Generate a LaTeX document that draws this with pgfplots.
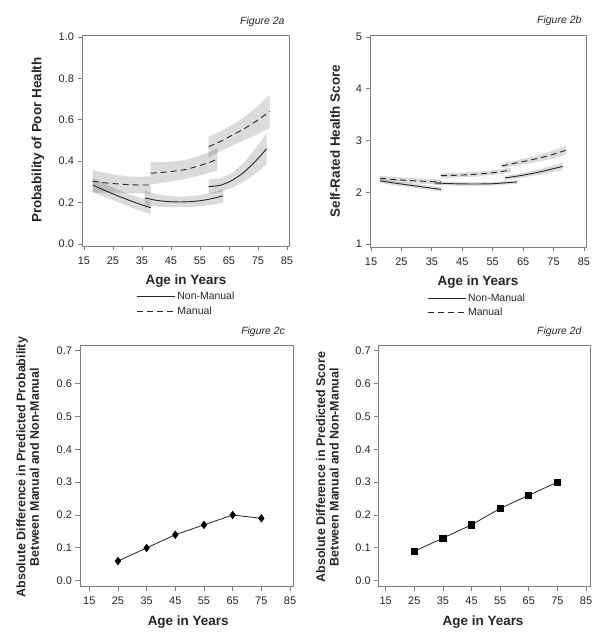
\documentclass[border=0pt]{standalone}
\usepackage{fontspec}
\setmainfont{Liberation Sans}
\usepackage{pgfplots}
\pgfplotsset{compat=1.18}

\definecolor{axgray}{gray}{0.5}
\definecolor{txtgray}{gray}{0.15}
\definecolor{linecol}{gray}{0.15}

\tikzset{figlab/.style={anchor=base east, font=\itshape\fontsize{10.5}{12}\selectfont, text=txtgray}}

\pgfplotsset{
  base/.style={
    scale only axis,
    anchor=south west,
    clip=false,
    axis line style={axgray, line width=0.8bp},
    tick style={axgray, line width=0.8bp},
    major tick length=4.5bp,
    tick align=outside,
    tick pos=left,
    xtick={15,25,...,85},
    ticklabel style={font=\fontsize{11}{12}\selectfont, text=txtgray},
    xticklabel style={yshift=-2.5bp},
    /pgf/number format/assume math mode=true,
    label style={font=\bfseries\fontsize{13.5}{15}\selectfont, text=txtgray},
    xlabel={Age in Years},
  },
  onedec/.style={yticklabel style={/pgf/number format/.cd, fixed, fixed zerofill, precision=1}},
  band/.style={fill=black, fill opacity=0.14, draw=none, forget plot},
  nm/.style={linecol, line width=0.9bp, smooth},
  mn/.style={linecol, line width=0.9bp, smooth, dash pattern=on 6bp off 4bp},
  leg/.style={
    legend style={draw=none, fill=none, anchor=north west, font=\fontsize{10.5}{12}\selectfont, text=txtgray, row sep=1.5bp,
      /tikz/every even column/.append style={column sep=2bp}},
    legend cell align=left,
    legend image code/.code={\draw[##1] (0bp,0bp) -- (38bp,0bp);},
  },
}

\begin{document}
\begin{tikzpicture}
\useasboundingbox (0bp,0bp) rectangle (600bp,639bp);

% ---------------- Figure 2a ----------------
\begin{axis}[base, onedec, leg,
  at={(82bp,393bp)}, width=207bp, height=211bp,
  xmin=14.31, xmax=85.69, ymin=-0.0097, ymax=1.0097,
  ytick={0,0.2,...,1.0},
  ylabel={Probability of Poor Health},
  ylabel style={at={(axis description cs:-0.2126,0.502)}, anchor=center},
  xlabel style={at={(axis description cs:0.502,-0.166)}, anchor=center},
  legend style={at={(axis description cs:0.248,-0.2)}},
]
% bands non-manual
\addplot[band] coordinates {(18,.320)(22,.292)(26,.266)(30,.244)(34,.225)(38,.208)(38,.142)(34,.163)(30,.184)(26,.206)(22,.228)(18,.250)};
\addplot[band] coordinates {(36,.257)(40,.241)(44,.232)(48,.228)(52,.231)(56,.238)(60,.252)(63,.266)(63,.200)(60,.192)(56,.184)(52,.179)(48,.178)(44,.178)(40,.181)(36,.187)};
\addplot[band] coordinates {(58,.312)(62,.317)(66,.342)(70,.390)(74,.458)(78,.535)(78,.385)(74,.338)(70,.300)(66,.272)(62,.251)(58,.242)};
% bands manual
\addplot[band] coordinates {(18,.358)(22,.344)(26,.334)(30,.327)(34,.325)(38,.327)(38,.243)(34,.245)(30,.247)(26,.248)(22,.248)(18,.248)};
\addplot[band] coordinates {(38,.397)(42,.396)(46,.399)(50,.406)(54,.422)(58,.443)(61,.465)(61,.355)(58,.343)(54,.328)(50,.314)(46,.305)(42,.296)(38,.287)};
\addplot[band] coordinates {(58,.520)(62,.543)(66,.575)(70,.610)(74,.655)(79,.720)(79,.560)(74,.525)(70,.500)(66,.475)(62,.447)(58,.420)};
% lines
\addplot[nm] coordinates {(18,.285)(22,.2598)(26,.2362)(30,.2142)(34,.1938)(38,.175)};
\addlegendentry{Non-Manual}
\addplot[mn] coordinates {(18,.303)(22,.296)(26,.291)(30,.287)(34,.285)(38,.285)};
\addlegendentry{Manual}
\addplot[nm, forget plot] coordinates {(36,.222)(40,.211)(44,.205)(48,.203)(52,.205)(56,.211)(60,.222)(63,.233)};
\addplot[nm, forget plot] coordinates {(58,.277)(62,.284)(66,.307)(70,.345)(74,.398)(78,.46)};
\addplot[mn, forget plot] coordinates {(38,.342)(42,.346)(46,.352)(50,.36)(54,.375)(58,.393)(61,.41)};
\addplot[mn, forget plot] coordinates {(58,.47)(62,.495)(66,.525)(70,.555)(74,.59)(79,.64)};
\node[figlab] at (rel axis cs:0.995,1.052) {Figure 2a};
\end{axis}

% ---------------- Figure 2b ----------------
\begin{axis}[base, leg,
  at={(370bp,392bp)}, width=216bp, height=212bp,
  xmin=14.67, xmax=85.66, ymin=0.942, ymax=5.039,
  ytick={1,2,3,4,5},
  ylabel={Self-Rated Health Score},
  ylabel style={at={(axis description cs:-0.162,0.5)}, anchor=center},
  xlabel style={at={(axis description cs:0.5,-0.165)}, anchor=center},
  legend style={at={(axis description cs:0.25,-0.2)}},
]
\addplot[band] coordinates {(18,2.26)(23,2.215)(28,2.175)(33,2.135)(38,2.095)(38,2.015)(33,2.055)(28,2.095)(23,2.135)(18,2.18)};
\addplot[band] coordinates {(36,2.215)(42,2.2)(48,2.195)(55,2.2)(63,2.235)(63,2.165)(55,2.13)(48,2.125)(42,2.13)(36,2.145)};
\addplot[band] coordinates {(59,2.315)(65,2.375)(71,2.455)(78,2.57)(78,2.43)(71,2.345)(65,2.285)(59,2.235)};
\addplot[band] coordinates {(18,2.32)(23,2.295)(28,2.275)(33,2.26)(38,2.245)(38,2.145)(33,2.16)(28,2.175)(23,2.195)(18,2.22)};
\addplot[band] coordinates {(38,2.365)(44,2.375)(50,2.395)(56,2.43)(61,2.475)(61,2.385)(56,2.34)(50,2.305)(44,2.285)(38,2.275)};
\addplot[band] coordinates {(58,2.555)(63,2.62)(68,2.69)(73,2.77)(79,2.90)(79,2.72)(73,2.63)(68,2.57)(63,2.52)(58,2.465)};
\addplot[nm] coordinates {(18,2.22)(23,2.175)(28,2.135)(33,2.095)(38,2.055)};
\addlegendentry{Non-Manual}
\addplot[mn] coordinates {(18,2.27)(23,2.245)(28,2.225)(33,2.21)(38,2.195)};
\addlegendentry{Manual}
\addplot[nm, forget plot] coordinates {(36,2.18)(42,2.165)(48,2.16)(55,2.165)(63,2.20)};
\addplot[nm, forget plot] coordinates {(59,2.275)(65,2.33)(71,2.40)(78,2.50)};
\addplot[mn, forget plot] coordinates {(38,2.32)(44,2.33)(50,2.35)(56,2.385)(61,2.43)};
\addplot[mn, forget plot] coordinates {(58,2.51)(63,2.57)(68,2.63)(73,2.70)(79,2.81)};
\node[figlab] at (rel axis cs:0.995,1.052) {Figure 2b};
\end{axis}

% ---------------- Figure 2c ----------------
\begin{axis}[base, onedec,
  at={(80bp,52.3bp)}, width=213.3bp, height=241.7bp,
  xmin=11.76, xmax=86.15, ymin=-0.018, ymax=0.717,
  ytick={0,0.1,...,0.7},
  ylabel={Absolute Difference in Predicted Probability\\Between Manual and Non-Manual},
  ylabel style={at={(axis description cs:-0.245,0.495)}, anchor=center, align=center, font=\bfseries\fontsize{12.5}{13.5}\selectfont},
  xlabel style={at={(axis description cs:0.507,-0.146)}, anchor=center},
]
\addplot[linecol, line width=0.8bp, mark=diamond*, mark size=3.6bp, mark options={solid, fill=black, draw=black}]
  coordinates {(25,0.06)(35,0.10)(45,0.14)(55,0.17)(65,0.20)(75,0.19)};
\node[figlab] at (rel axis cs:0.977,1.045) {Figure 2c};
\end{axis}

% ---------------- Figure 2d ----------------
\begin{axis}[base, onedec,
  at={(378.7bp,52.3bp)}, width=211.3bp, height=241.7bp,
  xmin=12.55, xmax=86.4, ymin=-0.018, ymax=0.717,
  ytick={0,0.1,...,0.7},
  ylabel={Absolute Difference in Predicted Score\\Between Manual and Non-Manual},
  ylabel style={at={(axis description cs:-0.243,0.495)}, anchor=center, align=center, font=\bfseries\fontsize{12.5}{13.5}\selectfont},
  xlabel style={at={(axis description cs:0.494,-0.146)}, anchor=center},
]
\addplot[linecol, line width=0.8bp, mark=square*, mark size=3.1bp, mark options={solid, fill=black, draw=black}]
  coordinates {(25,0.09)(35,0.13)(45,0.17)(55,0.22)(65,0.26)(75,0.30)};
\node[figlab] at (rel axis cs:0.976,1.045) {Figure 2d};
\end{axis}
\end{tikzpicture}
\end{document}
